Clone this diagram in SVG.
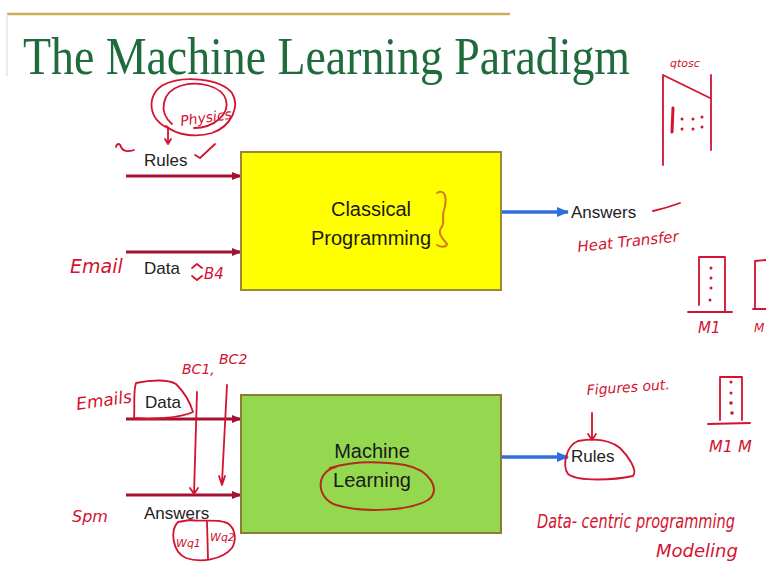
<svg xmlns="http://www.w3.org/2000/svg" width="766" height="582" viewBox="0 0 766 582">
  <style>
    .title { font-family: "Liberation Serif", "Times New Roman", serif; font-size: 46px; fill: #1f6b3c; }
    .lbl { font-family: "Liberation Sans", Arial, sans-serif; font-size: 17px; fill: #222; }
    .boxtxt { font-family: "Liberation Sans", Arial, sans-serif; font-size: 20px; fill: #1a1a1a; text-anchor: middle; }
    .in { stroke: #a31232; stroke-width: 3; fill: none; }
    .out { stroke: #2f6fdc; stroke-width: 3.5; fill: none; }
    .ink { stroke: #d3132f; stroke-width: 1.8; fill: none; stroke-linecap: round; stroke-linejoin: round; }
    .inkb { stroke: #d3132f; stroke-width: 3; fill: none; stroke-linecap: round; }
    .hand { font-family: "DejaVu Sans", "Liberation Sans", sans-serif; font-style: italic; fill: #d3132f; }
    .dot { fill: #d3132f; }
  </style>
  <defs>
    <marker id="headIn" markerWidth="10" markerHeight="8" refX="9" refY="4" orient="auto" markerUnits="userSpaceOnUse">
      <path d="M0,0 L10,4 L0,8 Z" fill="#a31232"/>
    </marker>
    <marker id="headOut" markerWidth="12" markerHeight="10" refX="11" refY="5" orient="auto" markerUnits="userSpaceOnUse">
      <path d="M0,0 L12,5 L0,10 Z" fill="#2f6fdc"/>
    </marker>
  </defs>

  <rect width="766" height="582" fill="#ffffff"/>

  <!-- slide frame and title -->
  <g id="title">
    <line x1="7" y1="14" x2="510" y2="14" stroke="#c9ad5a" stroke-width="2.5"/>
    <line x1="7" y1="14" x2="7" y2="76" stroke="#e4e4e4" stroke-width="1.5"/>
    <text class="title" transform="translate(23,74) scale(1,1.17)" x="0" y="0" textLength="607" lengthAdjust="spacingAndGlyphs">The Machine Learning Paradigm</text>
  </g>

  <!-- connectors -->
  <g id="connectors">
    <line class="in" x1="126" y1="176" x2="241" y2="176" marker-end="url(#headIn)"/>
    <line class="in" x1="126" y1="252" x2="241" y2="252" marker-end="url(#headIn)"/>
    <line class="out" x1="502" y1="212" x2="568" y2="212" marker-end="url(#headOut)"/>
    <line class="in" x1="126" y1="419" x2="241" y2="419" marker-end="url(#headIn)"/>
    <line class="in" x1="126" y1="495" x2="241" y2="495" marker-end="url(#headIn)"/>
    <line class="out" x1="502" y1="457" x2="568" y2="457" marker-end="url(#headOut)"/>
  </g>

  <!-- classical programming block -->
  <g id="classical">
    <rect x="241" y="152" width="260" height="138" fill="#ffff00" stroke="#9c8a3a" stroke-width="2"/>
    <text class="boxtxt" x="371" y="216">Classical</text>
    <text class="boxtxt" x="371" y="245">Programming</text>
  </g>

  <!-- machine learning block -->
  <g id="ml">
    <rect x="241" y="395" width="260" height="138" fill="#94d850" stroke="#8c7c36" stroke-width="2"/>
    <text class="boxtxt" x="372" y="458">Machine</text>
    <text class="boxtxt" x="372" y="487">Learning</text>
  </g>

  <!-- port labels -->
  <g id="labels">
    <text class="lbl" x="144" y="166">Rules</text>
    <text class="lbl" x="144" y="274">Data</text>
    <text class="lbl" x="571" y="218">Answers</text>
    <text class="lbl" x="145" y="408">Data</text>
    <text class="lbl" x="144" y="519">Answers</text>
    <text class="lbl" x="571" y="462">Rules</text>
  </g>

  <!-- pen annotations -->
  <g id="notes">
    <!-- physics loops -->
    <path class="ink" d="M168,128 C148,120 146,95 163,85 C182,75 220,78 232,93 C240,106 232,126 212,133 C196,138 176,135 166,126"/>
    <path class="ink" d="M172,124 C158,112 162,92 180,86 C198,80 222,86 226,100 C230,114 214,128 194,128"/>
    <text class="hand" x="181" y="126" font-size="14" transform="rotate(-8 181 126)">Physics</text>
    <path class="ink" d="M168,128 L168,144 M165,139 L168,144 L171,139"/>
    <path class="ink" d="M116,147 C117,143 120,143 121,147 C123,151 128,152 134,150"/>
    <path class="ink" d="M195,155 L200,158 L215,144"/>

    <text class="hand" x="70" y="273" font-size="19">Email</text>
    <path class="ink" d="M192,268 L197,264 L202,268 M192,276 L197,280 L202,276"/>
    <text class="hand" x="204" y="279" font-size="15">B4</text>

    <!-- brace beside Programming -->
    <path d="M437,193 C446,188 447,200 444,210 C441,218 446,222 441,228 C437,234 444,240 447,244 C446,248 440,247 437,245" fill="none" stroke="#d37a1c" stroke-width="2" stroke-linecap="round"/>

    <path class="ink" d="M653,211 C662,209 672,206 680,203"/>
    <text class="hand" x="578" y="252" font-size="15" transform="rotate(-6 578 252)">Heat Transfer</text>

    <!-- matrix sketch, top right -->
    <text class="hand" x="670" y="67" font-size="11">qtosc</text>
    <path class="ink" d="M663,75 L663,165 M663,75 L710,98 M711,75 L711,150"/>
    <path class="inkb" d="M673,108 L672,132"/>
    <circle class="dot" cx="682" cy="119" r="1.5"/><circle class="dot" cx="693" cy="119" r="1.5"/><circle class="dot" cx="702" cy="117" r="1.5"/>
    <circle class="dot" cx="682" cy="129" r="1.5"/><circle class="dot" cx="693" cy="129" r="1.5"/><circle class="dot" cx="702" cy="127" r="1.5"/>

    <!-- column vectors -->
    <path class="ink" d="M699,305 L699,257 L725,257 L725,311 M688,312 L732,312"/>
    <circle class="dot" cx="711" cy="268" r="1.5"/><circle class="dot" cx="711" cy="278" r="1.5"/><circle class="dot" cx="711" cy="288" r="1.5"/><circle class="dot" cx="710" cy="300" r="1.5"/>
    <text class="hand" x="698" y="333" font-size="15">M1</text>
    <path class="ink" d="M755,308 L755,261 L766,260 M753,309 L766,309"/>
    <text class="hand" x="754" y="332" font-size="12">M</text>

    <path class="ink" d="M720,420 L720,377 L742,377 L742,420 M708,424 L750,423"/>
    <circle class="dot" cx="731" cy="382" r="1.5"/><circle class="dot" cx="731" cy="393" r="1.5"/><circle class="dot" cx="731" cy="403" r="1.8"/><circle class="dot" cx="732" cy="413" r="1.8"/>
    <text class="hand" x="709" y="452" font-size="16">M1 M</text>

    <!-- lower inputs -->
    <text class="hand" x="77" y="410" font-size="17" transform="rotate(-8 77 410)">Emails</text>
    <path class="ink" d="M134,418 C135,405 133,392 136,383 C150,380 168,379 176,384 C184,392 190,402 193,412 C180,418 150,420 134,418"/>
    <text class="hand" x="182" y="374" font-size="14">BC1,</text>
    <text class="hand" x="219" y="364" font-size="14">BC2</text>
    <path class="ink" d="M197,392 L194,494 M190,488 L194,494 L198,488"/>
    <path class="ink" d="M227,385 L222,482 M219,476 L222,485 L225,476"/>

    <text class="hand" x="72" y="522" font-size="16">Spm</text>
    <path class="ink" d="M178,522 C170,530 172,552 186,558 C200,563 222,560 232,548 C238,538 234,524 224,522 C214,519 200,522 190,520 Z M207,522 L208,559"/>
    <text class="hand" x="176" y="547" font-size="11">Wq1</text>
    <text class="hand" x="210" y="541" font-size="11">Wq2</text>

    <!-- Learning loop -->
    <path d="M336,467 C315,472 316,498 336,505 C362,513 410,511 428,500 C442,490 430,470 405,465 C380,461 352,461 330,468" fill="none" stroke="#b32b1a" stroke-width="2" stroke-linecap="round"/>

    <!-- output annotations -->
    <text class="hand" x="587" y="395" font-size="14" transform="rotate(-4 587 395)">Figures out.</text>
    <path class="ink" d="M592,413 L592,440 M588,434 L592,440 L596,434"/>
    <path class="ink" d="M578,441 C566,446 562,465 568,474 C578,482 615,480 633,476 C638,470 628,456 620,448 C610,440 595,438 578,441"/>
    <text class="hand" transform="translate(537,528) scale(1,1.25)" x="0" y="0" font-size="15" textLength="198" lengthAdjust="spacingAndGlyphs">Data- centric programming</text>
    <text class="hand" x="656" y="557" font-size="18">Modeling</text>
  </g>
</svg>
